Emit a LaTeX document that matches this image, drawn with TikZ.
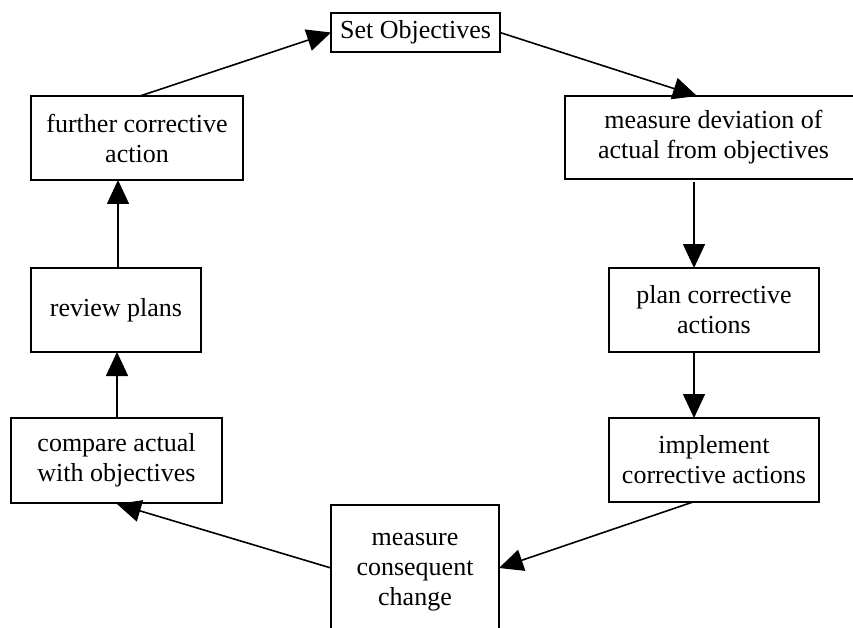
\documentclass[tikz,border=0pt]{standalone}
\usepackage{fontspec}
\setmainfont{Liberation Serif}
\usetikzlibrary{arrows.meta,calc}
\begin{document}
\begin{tikzpicture}[x=1pt,y=-1pt,
  box/.style={draw, line width=1.6pt, inner sep=0pt, outer sep=0pt, align=center,
    font=\fontsize{26}{30}\selectfont},
  conn/.style={line width=1.6pt, -{Triangle[length=24pt,width=22pt]}}]
\useasboundingbox (0,0) rectangle (853,628);
\node[box, minimum width=169pt, minimum height=39pt] (obj) at (415.5,32.5) {Set Objectives};
\node[box, minimum width=297pt, minimum height=83pt] (dev) at (713.5,137.5) {measure deviation of\\actual from objectives};
\node[box, minimum width=210pt, minimum height=84pt] (plan) at (714,310) {plan corrective\\actions};
\node[box, minimum width=210pt, minimum height=84pt] (impl) at (714,460) {implement\\corrective actions};
\node[box, minimum width=168pt, minimum height=135pt] (cons) at (415,572.5) {measure\\consequent\\change};
\node[box, minimum width=211pt, minimum height=85pt] (comp) at (116.5,460.5) {compare actual\\with objectives};
\node[box, minimum width=170pt, minimum height=84pt] (rev) at (116,310) {review plans};
\node[box, minimum width=212pt, minimum height=84pt] (fur) at (137,138) {further corrective\\action};
\draw[conn] (obj.east) -- ($(dev.north west)+(132,0)$);
\draw[conn] ($(dev.south west)+(129,3)$) -- ($(plan.north west)+(85,0)$);
\draw[conn] ($(plan.south west)+(85,1)$) -- ($(impl.north west)+(85,0)$);
\draw[conn] ($(impl.south west)+(84,0)$) -- ($(cons.north east)+(0,63)$);
\draw[conn] ($(cons.north west)+(0,63)$) -- ($(comp.south west)+(106,1)$);
\draw[conn] ($(comp.north west)+(106,0)$) -- ($(rev.south west)+(86,0)$);
\draw[conn] ($(rev.north west)+(87,0)$) -- ($(fur.south west)+(87,0)$);
\draw[conn] ($(fur.north west)+(109,0)$) -- (obj.west);
\end{tikzpicture}
\end{document}
